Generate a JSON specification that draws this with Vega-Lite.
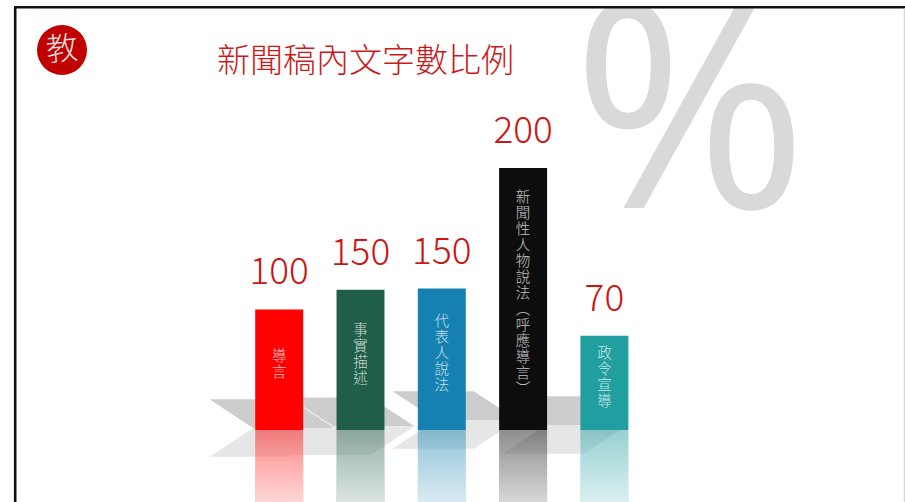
{
  "$schema": "https://vega.github.io/schema/vega-lite/v6.json",
  "width": 905,
  "height": 502,
  "autosize": {"type": "none"},
  "padding": 0,
  "background": "white",
  "config": {"view": {"stroke": null}},
  "datasets": {
    "bars": [
      {"item": "導言", "value": 100, "drawn": 92},
      {"item": "事實描述", "value": 150, "drawn": 107},
      {"item": "代表人說法", "value": 150, "drawn": 108},
      {"item": "新聞性人物說法（呼應導言）", "value": 200, "drawn": 200},
      {"item": "政令宣導", "value": 70, "drawn": 72}
    ],
    "one": [{"k": 1}]
  },
  "layer": [
    {
      "data": {"name": "one"},
      "layer": [
        {
          "mark": {"type": "point", "filled": true, "opacity": 1, "strokeWidth": 0, "color": "#CDCDCD", "size": 15625,
            "shape": "M-3.37 -0.46 L-2.07 -0.46 L-1.37 0 L-2.67 0 Z M-2.09 -0.49 L-0.79 -0.49 L-0.09 -0.03 L-1.39 -0.03 Z M-0.44 -0.59 L0.86 -0.59 L1.56 -0.13 L0.26 -0.13 Z M1.32 -0.51 L2.62 -0.51 L3.32 -0.05 L2.02 -0.05 Z"},
          "encoding": {
            "x": {"datum": 46.41, "type": "quantitative", "scale": {"domain": [0, 100], "nice": false, "zero": false}, "axis": null},
            "y": {"datum": 85.26, "type": "quantitative", "scale": {"domain": [0, 100], "nice": false, "zero": false, "reverse": true}, "axis": null}
          }
        },
        {
          "mark": {"type": "point", "filled": true, "opacity": 1, "strokeWidth": 0, "color": "#E6E6E6", "size": 15625,
            "shape": "M-2.67 0 L-1.37 0 L-2.07 0.46 L-3.37 0.46 Z M-1.39 -0.03 L-0.09 -0.03 L-0.79 0.43 L-2.09 0.43 Z M0.26 -0.13 L1.56 -0.13 L0.86 0.33 L-0.44 0.33 Z M2.02 -0.05 L3.32 -0.05 L2.62 0.41 L1.32 0.41 Z"},
          "encoding": {
            "x": {"datum": 46.41, "type": "quantitative"},
            "y": {"datum": 85.26, "type": "quantitative"}
          }
        },
        {
          "mark": {"type": "text", "text": "%", "font": "Open Sans", "fontWeight": 400, "fontSize": 285, "color": "#D9D9D9", "align": "center", "baseline": "alphabetic"},
          "encoding": {
            "x": {"datum": 76.24, "type": "quantitative"},
            "y": {"datum": 41.43, "type": "quantitative"}
          }
        }
      ]
    },
    {
      "data": {"name": "bars"},
      "transform": [
        {"calculate": "split(replace(replace(datum.item, '（', '︵'), '）', '︶'), '')", "as": "chars"},
        {"calculate": "datum.drawn / 2 + length(datum.chars) * 8 / 1.31", "as": "textTop"}
      ],
      "encoding": {
        "x": {"field": "item", "type": "nominal", "sort": null, "axis": null,
          "scale": {"range": [238.55, 645.05], "paddingInner": 0.41, "paddingOuter": 0.205}}
      },
      "layer": [
        {
          "mark": {"type": "bar", "opacity": 0.47},
          "encoding": {
            "y": {"datum": 0, "type": "quantitative", "scale": {"domain": [-54.96, 328.24], "nice": false, "zero": false}, "axis": null},
            "y2": {"datum": -55},
            "color": {"field": "item", "type": "nominal", "legend": null,
              "scale": {"domain": ["導言", "事實描述", "代表人說法", "新聞性人物說法（呼應導言）", "政令宣導"],
                "range": ["#FF0000", "#1F5E4B", "#1581B1", "#0D0D0D", "#219EA0"]}}
          }
        },
        {
          "mark": {"type": "bar", "color": {"gradient": "linear", "x1": 0, "y1": 0, "x2": 0, "y2": 1,
            "stops": [{"offset": 0, "color": "rgba(255,255,255,0)"}, {"offset": 1, "color": "rgba(255,255,255,0.66)"}]}},
          "encoding": {
            "y": {"datum": 0, "type": "quantitative"},
            "y2": {"datum": -55}
          }
        },
        {
          "mark": {"type": "bar", "opacity": 1},
          "encoding": {
            "y": {"field": "drawn", "type": "quantitative"},
            "y2": {"datum": 0},
            "color": {"field": "item", "type": "nominal", "legend": null}
          }
        },
        {
          "mark": {"type": "text", "font": "Noto Sans CJK TC", "fontWeight": 300, "fontSize": 14.5, "lineHeight": 16, "align": "center", "baseline": "top", "dy": -4, "opacity": 0.75},
          "encoding": {
            "color": {"value": "#FFFFFF"},
            "y": {"field": "textTop", "type": "quantitative"},
            "text": {"field": "chars"}
          }
        },
        {
          "mark": {"type": "text", "font": "Noto Sans CJK TC", "fontWeight": 300, "fontSize": 37, "align": "center", "baseline": "alphabetic", "dy": -25},
          "encoding": {
            "color": {"value": "#CC1515"},
            "y": {"field": "drawn", "type": "quantitative"},
            "text": {"field": "value", "type": "quantitative"}
          }
        }
      ]
    },
    {
      "data": {"name": "one"},
      "layer": [
        {
          "mark": {"type": "rect", "color": "white"},
          "encoding": {
            "x": {"datum": 0, "type": "quantitative", "scale": {"domain": [0, 100], "nice": false, "zero": false}, "axis": null},
            "x2": {"datum": 100},
            "y": {"datum": 0, "type": "quantitative", "scale": {"domain": [0, 100], "nice": false, "zero": false, "reverse": true}, "axis": null},
            "y2": {"datum": 1.25}
          }
        },
        {
          "mark": {"type": "rule", "color": "#111111", "strokeWidth": 2.6},
          "encoding": {
            "x": {"datum": 1.68, "type": "quantitative"},
            "y": {"datum": 1.2, "type": "quantitative"},
            "y2": {"datum": 100}
          }
        },
        {
          "mark": {"type": "rule", "color": "#111111", "strokeWidth": 2.6},
          "encoding": {
            "x": {"datum": 1.55, "type": "quantitative"},
            "x2": {"datum": 100},
            "y": {"datum": 1.45, "type": "quantitative"}
          }
        },
        {
          "mark": {"type": "rule", "color": "#CCCCCC", "strokeWidth": 1},
          "encoding": {
            "x": {"datum": 99.92, "type": "quantitative"},
            "y": {"datum": 1.6, "type": "quantitative"},
            "y2": {"datum": 100}
          }
        },
        {
          "mark": {"type": "point", "shape": "circle", "filled": true, "opacity": 1, "strokeWidth": 0, "color": "#C10000", "size": 2500},
          "encoding": {
            "x": {"datum": 6.85, "type": "quantitative"},
            "y": {"datum": 9.96, "type": "quantitative"}
          }
        },
        {
          "mark": {"type": "text", "text": "教", "font": "Noto Sans CJK TC", "fontWeight": 300, "fontSize": 32, "color": "#DDDDDD", "align": "center", "baseline": "middle", "angle": -5},
          "encoding": {
            "x": {"datum": 6.85, "type": "quantitative"},
            "y": {"datum": 9.96, "type": "quantitative"}
          }
        },
        {
          "mark": {"type": "text", "text": "新聞稿內文字數比例", "font": "Noto Sans CJK TC", "fontWeight": 300, "fontSize": 33, "color": "#CC1A1A", "align": "left", "baseline": "middle"},
          "encoding": {
            "x": {"datum": 23.98, "type": "quantitative"},
            "y": {"datum": 12.45, "type": "quantitative"}
          }
        }
      ]
    }
  ],
  "resolve": {"scale": {"x": "independent", "y": "independent", "color": "independent"}}
}
